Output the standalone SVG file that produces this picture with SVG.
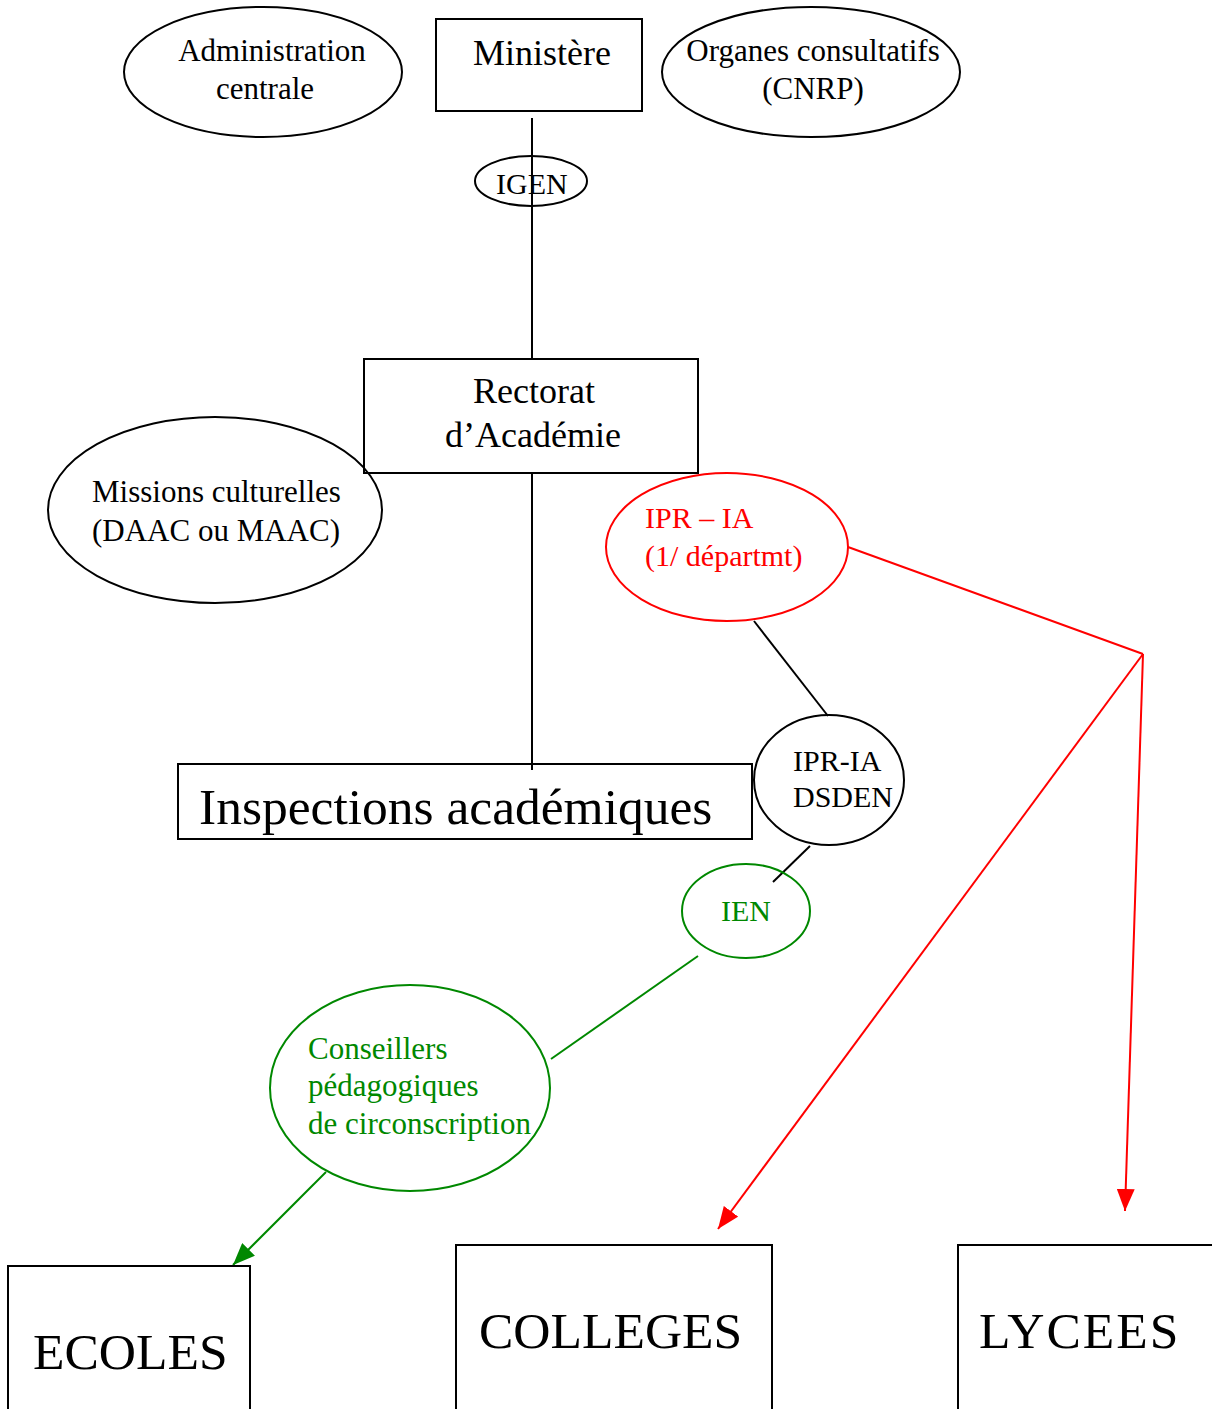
<svg xmlns="http://www.w3.org/2000/svg" width="1212" height="1409" viewBox="0 0 1212 1409">
<style>
text{font-family:"Liberation Serif","Times New Roman",serif;fill:#000}
.s{fill:none;stroke:#000;stroke-width:2}
.r{fill:none;stroke:#f00;stroke-width:2}
.g{fill:none;stroke:#080;stroke-width:2}
.tr{fill:#f00}
.tg{fill:#080}
.f30{font-size:30px}
.f31{font-size:31px}
.f36{font-size:36px}
.f51{font-size:51.5px}
.mid{text-anchor:middle}
</style>
<defs>
<marker id="ar" markerUnits="userSpaceOnUse" markerWidth="22" markerHeight="18" refX="22" refY="9" orient="auto" viewBox="0 0 22 18"><path d="M0,0 L22,9 L0,18 z" fill="#f00"/></marker>
<marker id="ag" markerUnits="userSpaceOnUse" markerWidth="22" markerHeight="18" refX="22" refY="9" orient="auto" viewBox="0 0 22 18"><path d="M0,0 L22,9 L0,18 z" fill="#080"/></marker>
</defs>
<rect width="1212" height="1409" fill="#fff"/>
<g id="connectors">
<line class="s" x1="532" y1="118" x2="532" y2="358"/>
<line class="s" x1="532" y1="474" x2="532" y2="770"/>
<line class="s" x1="754" y1="621" x2="828" y2="716"/>
<line class="s" x1="810" y1="846" x2="773" y2="882"/>
<line class="r" x1="848" y1="547" x2="1143" y2="654"/>
<line class="r" x1="1143" y1="654" x2="718" y2="1229" marker-end="url(#ar)"/>
<line class="r" x1="1143" y1="654" x2="1125" y2="1211" marker-end="url(#ar)"/>
<line class="g" x1="698" y1="956" x2="551" y2="1059"/>
<line class="g" x1="326" y1="1172" x2="233" y2="1265" marker-end="url(#ag)"/>
</g>
<g id="administration">
<ellipse class="s" cx="263" cy="72" rx="139" ry="65"/>
<text class="f31 mid" x="272" y="61">Administration</text>
<text class="f31 mid" x="265" y="99">centrale</text>
</g>
<g id="ministere">
<rect class="s" x="436" y="19" width="206" height="92"/>
<text class="f36" x="473" y="65">Ministère</text>
</g>
<g id="organes">
<ellipse class="s" cx="811" cy="72" rx="149" ry="65"/>
<text class="f31 mid" x="813" y="61">Organes consultatifs</text>
<text class="f31 mid" x="813" y="99">(CNRP)</text>
</g>
<g id="igen">
<ellipse class="s" cx="531" cy="181" rx="56" ry="25"/>
<text class="f30" x="496" y="194">IGEN</text>
</g>
<line class="s" x1="532" y1="150" x2="532" y2="210"/>
<g id="rectorat">
<rect class="s" x="364" y="359" width="334" height="114" fill="#fff"/>
<text class="f36 mid" x="534" y="403">Rectorat</text>
<text class="f36 mid" x="533" y="447">d’Académie</text>
</g>
<g id="missions">
<ellipse class="s" cx="215" cy="510" rx="167" ry="93"/>
<text class="f31" x="92" y="502">Missions culturelles</text>
<text class="f31" x="92" y="541">(DAAC ou MAAC)</text>
</g>
<g id="ipr-ia">
<ellipse class="r" cx="727" cy="547" rx="121" ry="74"/>
<text class="f30 tr" x="645" y="528">IPR – IA</text>
<text class="f30 tr" x="645" y="566">(1/ départmt)</text>
</g>
<g id="inspections">
<rect class="s" x="178" y="764" width="574" height="75"/>
<text class="f51" x="199" y="824">Inspections académiques</text>
</g>
<g id="dsden">
<ellipse class="s" cx="829" cy="780" rx="75" ry="65"/>
<text class="f30" x="793" y="771">IPR-IA</text>
<text class="f30" x="793" y="807">DSDEN</text>
</g>
<g id="ien">
<ellipse class="g" cx="746" cy="911" rx="64" ry="47"/>
<text class="f30 tg" x="721" y="921">IEN</text>
</g>
<g id="conseillers">
<ellipse class="g" cx="410" cy="1088" rx="140" ry="103"/>
<text class="f31 tg" x="308" y="1059">Conseillers</text>
<text class="f31 tg" x="308" y="1096">pédagogiques</text>
<text class="f31 tg" x="308" y="1134">de circonscription</text>
</g>
<g id="ecoles">
<rect class="s" x="8" y="1266" width="242" height="160"/>
<text class="f51" x="33" y="1369">ECOLES</text>
</g>
<g id="colleges">
<rect class="s" x="456" y="1245" width="316" height="180"/>
<text class="f51" x="479" y="1348">COLLEGES</text>
</g>
<g id="lycees">
<rect class="s" x="958" y="1245" width="270" height="180"/>
<text class="f51" x="979" y="1348" letter-spacing="2">LYCEES</text>
</g>
</svg>
